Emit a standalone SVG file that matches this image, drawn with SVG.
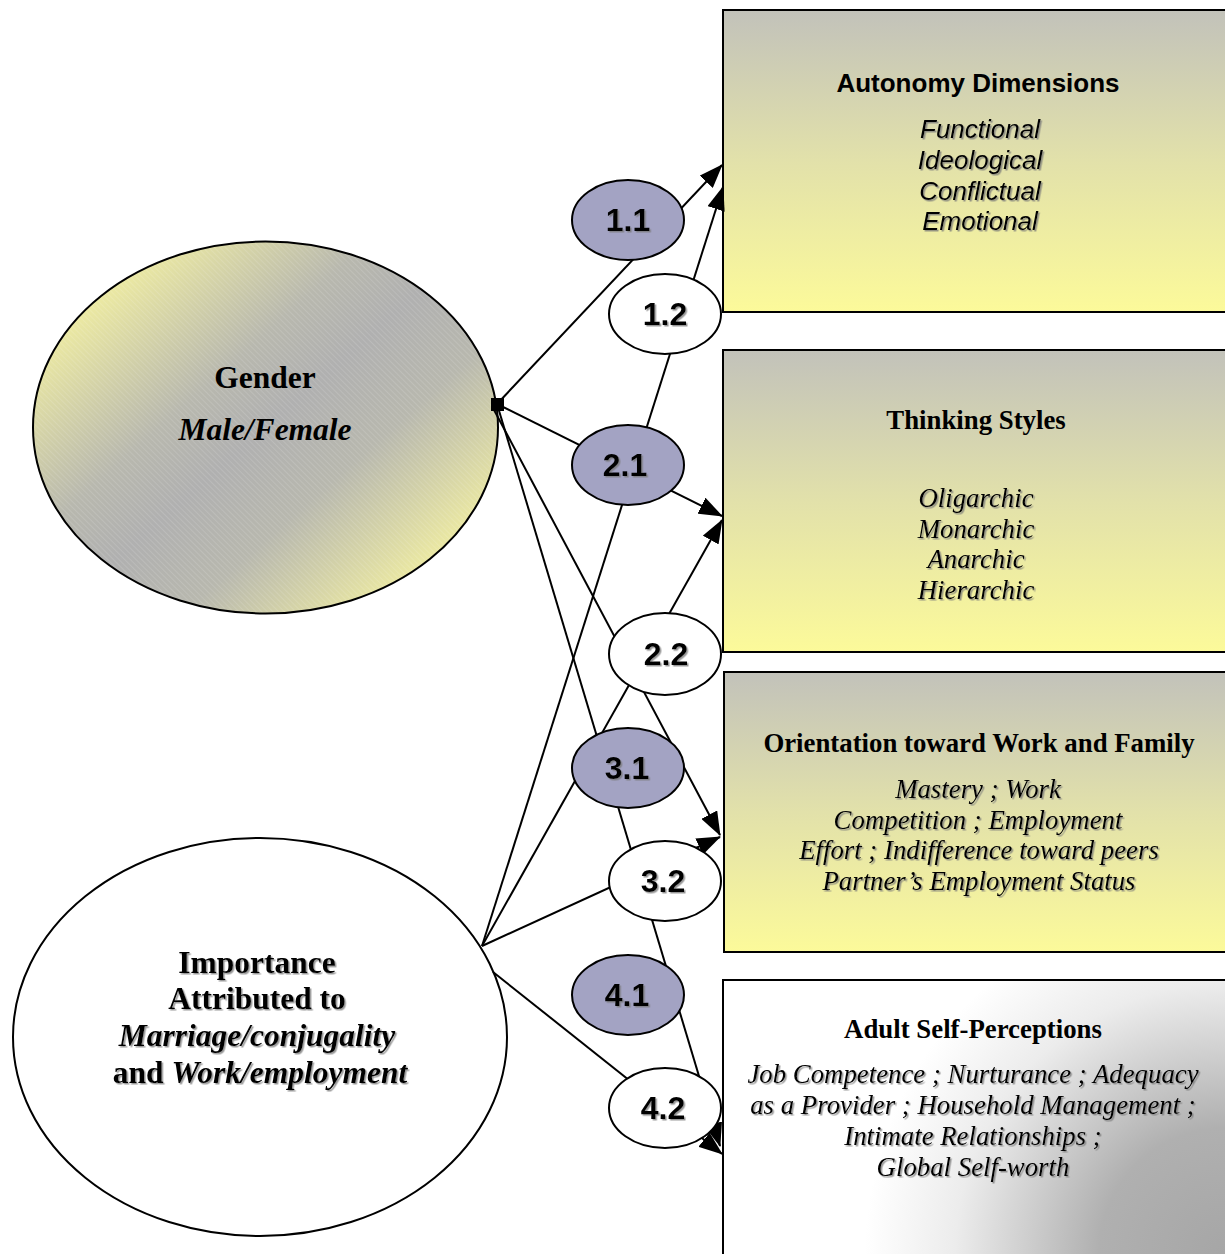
<svg xmlns="http://www.w3.org/2000/svg" width="1225" height="1254" viewBox="0 0 1225 1254">
<defs>
<style>
.box{stroke:#000;stroke-width:2}
.big{stroke:#000;stroke-width:2}
.sm{stroke:#000;stroke-width:2}
.dark{fill:#a3a3c3}
.light{fill:#fff}
.num{font-family:"Liberation Sans",Arial,sans-serif;font-weight:bold;font-size:32px;text-anchor:middle;fill:#000}
.ta{font-family:"Liberation Sans",Arial,sans-serif;font-weight:bold;font-size:26px;text-anchor:middle}
.ia{font-family:"Liberation Sans",Arial,sans-serif;font-style:italic;font-size:26px;text-anchor:middle}
.tt{font-family:"Liberation Serif","Times New Roman",serif;font-weight:bold;font-size:26.8px;text-anchor:middle}
.it{font-family:"Liberation Serif","Times New Roman",serif;font-style:italic;font-size:26.8px;text-anchor:middle}
.bt{font-family:"Liberation Serif","Times New Roman",serif;font-weight:bold;font-size:31.5px;text-anchor:middle}
.conn line{stroke:#000;stroke-width:2;marker-end:url(#arr)}
</style>
<marker id="arr" markerUnits="userSpaceOnUse" markerWidth="24" markerHeight="18" refX="23" refY="9" orient="auto" viewBox="0 0 24 18">
<path d="M0,0 L24,9 L0,18 z" fill="#000"/>
</marker>
<filter id="sh" x="-10%" y="-30%" width="130%" height="170%">
<feDropShadow dx="1.5" dy="1.5" stdDeviation="0.7" flood-color="#777" flood-opacity="0.75"/>
</filter>
<linearGradient id="gy" x1="0" y1="0" x2="0" y2="1">
<stop offset="0" stop-color="#c2c2ba"/>
<stop offset="0.5" stop-color="#e2e1aa"/>
<stop offset="1" stop-color="#fcfa9a"/>
</linearGradient>
<radialGradient id="gw" gradientUnits="userSpaceOnUse" cx="1225" cy="1254" r="360">
<stop offset="0" stop-color="#a6a6a6"/>
<stop offset="0.35" stop-color="#b0b0b0"/>
<stop offset="0.75" stop-color="#ececec"/>
<stop offset="1" stop-color="#ffffff"/>
</radialGradient>
<linearGradient id="gg" x1="0.08" y1="0.12" x2="0.92" y2="0.88">
<stop offset="0" stop-color="#f6f3a0"/>
<stop offset="0.35" stop-color="#b8b8ae"/>
<stop offset="0.5" stop-color="#b0b0b0"/>
<stop offset="0.68" stop-color="#b8b8ae"/>
<stop offset="1" stop-color="#f6f3a0"/>
</linearGradient>
<pattern id="hatch" patternUnits="userSpaceOnUse" width="4" height="4" patternTransform="rotate(-45)">
<line x1="0" y1="0" x2="0" y2="4" stroke="#fff" stroke-width="1" stroke-opacity="0.25"/>
</pattern>
</defs>
<rect width="1225" height="1254" fill="#fff"/>

<g id="box-autonomy">
<rect class="box" x="723" y="10" width="520" height="302" fill="url(#gy)"/>
<text class="ta" x="978" y="92">Autonomy Dimensions</text>
<g filter="url(#sh)">
<text class="ia" x="980" y="138">Functional</text>
<text class="ia" x="980" y="169">Ideological</text>
<text class="ia" x="980" y="200">Conflictual</text>
<text class="ia" x="980" y="230">Emotional</text>
</g>
</g>

<g id="box-thinking">
<rect class="box" x="723" y="350" width="520" height="302" fill="url(#gy)"/>
<text class="tt" x="976" y="429">Thinking Styles</text>
<g filter="url(#sh)">
<text class="it" x="976" y="507">Oligarchic</text>
<text class="it" x="976" y="538">Monarchic</text>
<text class="it" x="976" y="568">Anarchic</text>
<text class="it" x="976" y="599">Hierarchic</text>
</g>
</g>

<g id="box-orientation">
<rect class="box" x="724" y="672" width="520" height="280" fill="url(#gy)"/>
<text class="tt" x="979" y="752">Orientation toward Work and Family</text>
<g filter="url(#sh)">
<text class="it" x="978" y="798">Mastery ; Work</text>
<text class="it" x="978" y="829">Competition ; Employment</text>
<text class="it" x="979" y="859">Effort ; Indifference toward peers</text>
<text class="it" x="979" y="890">Partner’s Employment Status</text>
</g>
</g>

<g id="box-selfperceptions">
<rect class="box" x="723" y="980" width="520" height="300" fill="url(#gw)"/>
<text class="tt" x="973" y="1038">Adult Self-Perceptions</text>
<g filter="url(#sh)">
<text class="it" x="973" y="1083">Job Competence ; Nurturance ; Adequacy</text>
<text class="it" x="973" y="1114">as a Provider ; Household Management ;</text>
<text class="it" x="973" y="1145">Intimate Relationships ;</text>
<text class="it" x="973" y="1176">Global Self-worth</text>
</g>
</g>

<g id="gender">
<ellipse cx="265.5" cy="427.5" rx="232.5" ry="186" fill="url(#gg)"/>
<ellipse class="big" cx="265.5" cy="427.5" rx="232.5" ry="186" fill="url(#hatch)"/>
<text class="bt" x="265" y="388">Gender</text>
<text class="bt" x="265" y="440" font-style="italic">Male/Female</text>
</g>

<g id="importance">
<ellipse class="big" cx="260" cy="1037" rx="247" ry="199" fill="#fff"/>
<g filter="url(#sh)">
<text class="bt" x="257" y="973">Importance</text>
<text class="bt" x="257" y="1009">Attributed to</text>
<text class="bt" x="257" y="1046" font-style="italic">Marriage/conjugality</text>
<text class="bt" x="260" y="1083">and <tspan font-style="italic">Work/employment</tspan></text>
</g>
</g>

<g id="connectors" class="conn">
<line x1="497" y1="404" x2="722" y2="165"/>
<line x1="482" y1="946" x2="723" y2="187"/>
<line x1="497" y1="404" x2="722" y2="516"/>
<line x1="482" y1="946" x2="722" y2="520"/>
<line x1="493" y1="408" x2="720" y2="835"/>
<line x1="482" y1="946" x2="720" y2="837"/>
<line x1="497" y1="404" x2="720" y2="1146"/>
<line x1="493" y1="972" x2="722" y2="1154"/>
</g>

<g id="n11"><ellipse class="sm dark" cx="628" cy="220" rx="56" ry="40"/><text class="num" x="628" y="231" filter="url(#sh)">1.1</text></g>
<g id="n12"><ellipse class="sm light" cx="665" cy="314" rx="56" ry="40"/><text class="num" x="665" y="325" filter="url(#sh)">1.2</text></g>
<g id="n21"><ellipse class="sm dark" cx="628" cy="465" rx="56" ry="40"/><text class="num" x="625" y="476" filter="url(#sh)">2.1</text></g>
<g id="n22"><ellipse class="sm light" cx="665" cy="654" rx="56" ry="41"/><text class="num" x="666" y="665" filter="url(#sh)">2.2</text></g>
<g id="n31"><ellipse class="sm dark" cx="628" cy="768" rx="56" ry="40"/><text class="num" x="627" y="779" filter="url(#sh)">3.1</text></g>
<g id="n32"><ellipse class="sm light" cx="665" cy="881" rx="56" ry="40"/><text class="num" x="663" y="892" filter="url(#sh)">3.2</text></g>
<g id="n41"><ellipse class="sm dark" cx="628" cy="995" rx="56" ry="40"/><text class="num" x="627" y="1006" filter="url(#sh)">4.1</text></g>
<g id="n42"><ellipse class="sm light" cx="665" cy="1108" rx="56" ry="40"/><text class="num" x="663" y="1119" filter="url(#sh)">4.2</text></g>

<g id="gender-port"><rect x="491" y="398" width="13" height="13" fill="#000"/></g>
</svg>
